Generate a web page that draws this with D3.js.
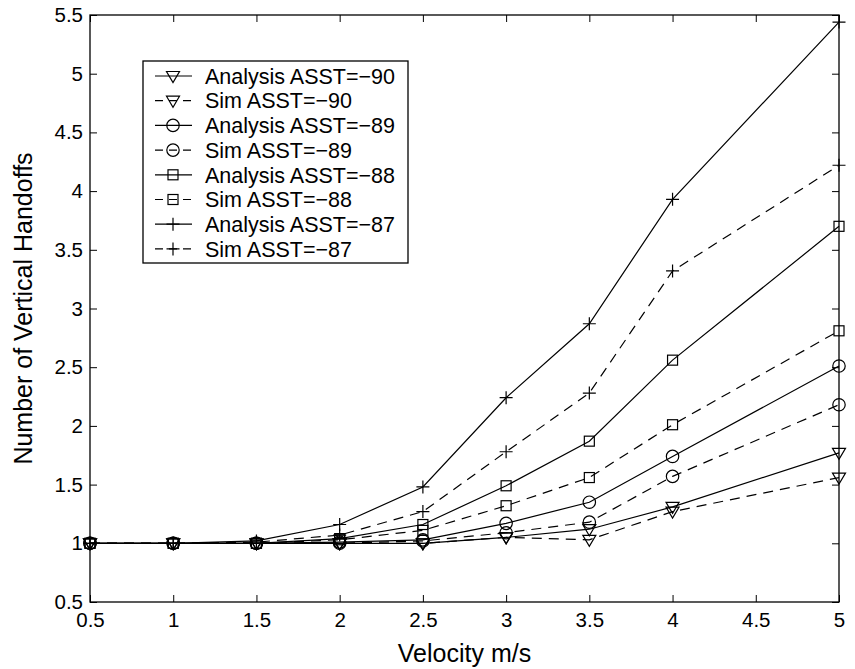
<html>
<head>
  <script src="https://d3js.org/d3.v7.min.js"></script>
  <style>
    body { margin: 0; background: #fff; }
    svg text { font-family: "Liberation Sans", Arial, Helvetica, sans-serif; fill: #000; }
    .axis .domain { stroke: none; }
    .axis line { stroke: #000; }
  </style>
</head>
<body>
  <svg id="chart" width="855" height="669"></svg>

  <script>
    // values
    const velocity = [0.5, 1, 1.5, 2, 2.5, 3, 3.5, 4, 5];

    const analysis90 = [1, 1, 1, 1, 1, 1.05, 1.12, 1.31, 1.77];
    const sim90 = [1, 1, 1, 1, 1, 1.05, 1.03, 1.27, 1.56];
    const analysis89 = [1, 1, 1, 1.01, 1.03, 1.17, 1.35, 1.74, 2.51];
    const sim89 = [1, 1, 1, 1, 1.02, 1.09, 1.18, 1.57, 2.18];
    const analysis88 = [1, 1, 1, 1.04, 1.16, 1.49, 1.87, 2.56, 3.70];
    const sim88 = [1, 1, 1, 1.03, 1.11, 1.32, 1.56, 2.01, 2.81];
    const analysis87 = [1, 1, 1.02, 1.16, 1.48, 2.24, 2.87, 3.93, 5.44];
    const sim87 = [1, 1, 1.01, 1.07, 1.27, 1.78, 2.28, 3.32, 4.22];

    const seriesNames = ['Analysis ASST=\u221290', 'Sim ASST=\u221290', 'Analysis ASST=\u221289', 'Sim ASST=\u221289',
      'Analysis ASST=\u221288', 'Sim ASST=\u221288', 'Analysis ASST=\u221287', 'Sim ASST=\u221287'];

    const xTicks = [0.5, 1, 1.5, 2, 2.5, 3, 3.5, 4, 4.5, 5];
    const yTicks = [0.5, 1, 1.5, 2, 2.5, 3, 3.5, 4, 4.5, 5, 5.5];

    const xLabel = 'Velocity m/s';
    const yLabel = 'Number of Vertical Handoffs';

    // marker + dash for each series (same order as names)
    const series = [
      { name: seriesNames[0], values: analysis90, marker: 'tri', dashed: false },
      { name: seriesNames[1], values: sim90, marker: 'tri', dashed: true },
      { name: seriesNames[2], values: analysis89, marker: 'circle', dashed: false },
      { name: seriesNames[3], values: sim89, marker: 'circle', dashed: true },
      { name: seriesNames[4], values: analysis88, marker: 'square', dashed: false },
      { name: seriesNames[5], values: sim88, marker: 'square', dashed: true },
      { name: seriesNames[6], values: analysis87, marker: 'plus', dashed: false },
      { name: seriesNames[7], values: sim87, marker: 'plus', dashed: true }
    ];

    const svg = d3.select('svg#chart');
    const width = svg.attr('width');
    const height = svg.attr('height');

    const margins = { top: 15, right: 16, bottom: 67, left: 90 };
    const chartWidth = width - margins.left - margins.right;
    const chartHeight = height - margins.top - margins.bottom;

    const chartArea = svg.append('g')
      .attr('transform', `translate(${margins.left},${margins.top})`);

    const xScale = d3.scaleLinear().domain([0.5, 5]).range([0, chartWidth]);
    const yScale = d3.scaleLinear().domain([0.5, 5.5]).range([chartHeight, 0]);

    // axes with inward ticks on all four sides
    const tickFont = '20.5px';
    const tickLen = 7;

    chartArea.append('g').attr('class', 'axis')
      .attr('transform', `translate(0,${chartHeight})`)
      .call(d3.axisBottom(xScale).tickValues(xTicks).tickFormat(d3.format('')).tickSize(-tickLen).tickPadding(10))
      .selectAll('text').style('font-size', tickFont);

    chartArea.append('g').attr('class', 'axis')
      .call(d3.axisLeft(yScale).tickValues(yTicks).tickFormat(d3.format('')).tickSize(-tickLen).tickPadding(7))
      .selectAll('text').style('font-size', tickFont);

    chartArea.append('g').attr('class', 'axis')
      .call(d3.axisTop(xScale).tickValues(xTicks).tickFormat('').tickSize(-tickLen));

    chartArea.append('g').attr('class', 'axis')
      .attr('transform', `translate(${chartWidth},0)`)
      .call(d3.axisRight(yScale).tickValues(yTicks).tickFormat('').tickSize(-tickLen));

    svg.selectAll('.axis text').attr('font-family', null);

    // frame
    chartArea.append('rect')
      .attr('width', chartWidth).attr('height', chartHeight)
      .attr('fill', 'none').attr('stroke', '#000').attr('stroke-width', 1.3);

    // markers
    function drawMarker(g, type, cx, cy) {
      if (type === 'tri') {
        g.append('path')
          .attr('d', `M${cx - 6.5},${cy - 4.5} L${cx + 6.5},${cy - 4.5} L${cx},${cy + 6.5} Z`)
          .attr('fill', 'none').attr('stroke', '#000').attr('stroke-width', 1.2);
      } else if (type === 'circle') {
        g.append('circle').attr('cx', cx).attr('cy', cy).attr('r', 6.2)
          .attr('fill', 'none').attr('stroke', '#000').attr('stroke-width', 1.2);
      } else if (type === 'square') {
        g.append('rect').attr('x', cx - 5).attr('y', cy - 5).attr('width', 10).attr('height', 10)
          .attr('fill', 'none').attr('stroke', '#000').attr('stroke-width', 1.2);
      } else {
        g.append('path')
          .attr('d', `M${cx - 6.5},${cy} L${cx + 6.5},${cy} M${cx},${cy - 6.5} L${cx},${cy + 6.5}`)
          .attr('fill', 'none').attr('stroke', '#000').attr('stroke-width', 1.2);
      }
    }

    const line = d3.line()
      .x((d, i) => xScale(velocity[i]))
      .y(d => yScale(d));

    series.forEach(s => {
      chartArea.append('path')
        .datum(s.values)
        .attr('d', line)
        .attr('fill', 'none')
        .attr('stroke', '#000')
        .attr('stroke-width', 1.2)
        .attr('stroke-dasharray', s.dashed ? '10,7' : null);

      const mg = chartArea.append('g');
      s.values.forEach((v, i) => drawMarker(mg, s.marker, xScale(velocity[i]), yScale(v)));
    });

    // legend
    const legend = svg.append('g').attr('transform', 'translate(143,61)');
    const rowH = 24.7;
    legend.append('rect')
      .attr('width', 265).attr('height', 202)
      .attr('fill', '#fff').attr('stroke', '#000').attr('stroke-width', 1.3);

    series.forEach((s, i) => {
      const y = 15 + i * rowH;
      legend.append('line')
        .attr('x1', 12).attr('x2', 49).attr('y1', y).attr('y2', y)
        .attr('stroke', '#000').attr('stroke-width', 1.2)
        .attr('stroke-dasharray', s.dashed ? '8,6' : null);
      drawMarker(legend, s.marker, 30, y);
      legend.append('text')
        .attr('x', 62).attr('y', y)
        .attr('dy', '0.36em')
        .style('font-size', '21.5px')
        .text(s.name);
    });

    // axis titles
    svg.append('text')
      .attr('x', margins.left + chartWidth / 2)
      .attr('y', 662)
      .attr('text-anchor', 'middle')
      .style('font-size', '25px')
      .text(xLabel);

    svg.append('text')
      .attr('transform', `translate(32,${margins.top + chartHeight / 2}) rotate(-90)`)
      .attr('text-anchor', 'middle')
      .style('font-size', '25px')
      .text(yLabel);
  </script>
</body>
</html>
